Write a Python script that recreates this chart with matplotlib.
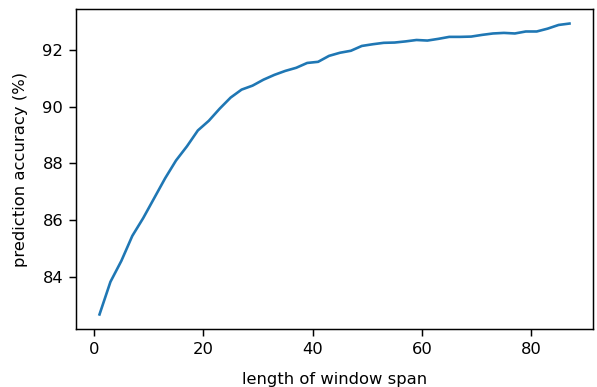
import matplotlib
matplotlib.use("Agg")
import matplotlib.pyplot as plt

window_span = list(range(1, 88, 2))
accuracy = [82.67, 83.82, 84.56, 85.44, 86.07, 86.77, 87.47, 88.10, 88.60, 89.16,
            89.50, 89.93, 90.32, 90.60, 90.74, 90.95, 91.12, 91.26, 91.37, 91.54,
            91.58, 91.79, 91.90, 91.97, 92.14, 92.20, 92.25, 92.26, 92.30, 92.35,
            92.33, 92.39, 92.46, 92.46, 92.47, 92.53, 92.58, 92.60, 92.58, 92.65,
            92.65, 92.75, 92.88, 92.93]

DPI = 118
fig = plt.figure(figsize=(597/DPI, 387/DPI), dpi=DPI)
ax = fig.add_axes([76/597, 1-329/387, (593-76)/597, (329-9)/387])
ax.plot(window_span, accuracy, color="#1f77b4", linewidth=1.6)
ax.set_xlabel("length of window span", labelpad=9)
ax.set_ylabel("prediction accuracy (%)", labelpad=9)
ax.set_xticks([0, 20, 40, 60, 80])
ax.set_yticks([84, 86, 88, 90, 92])
ax.tick_params(length=4.3, width=0.9)
for s in ax.spines.values():
    s.set_linewidth(0.9)
fig.savefig("out.png", dpi=DPI)
